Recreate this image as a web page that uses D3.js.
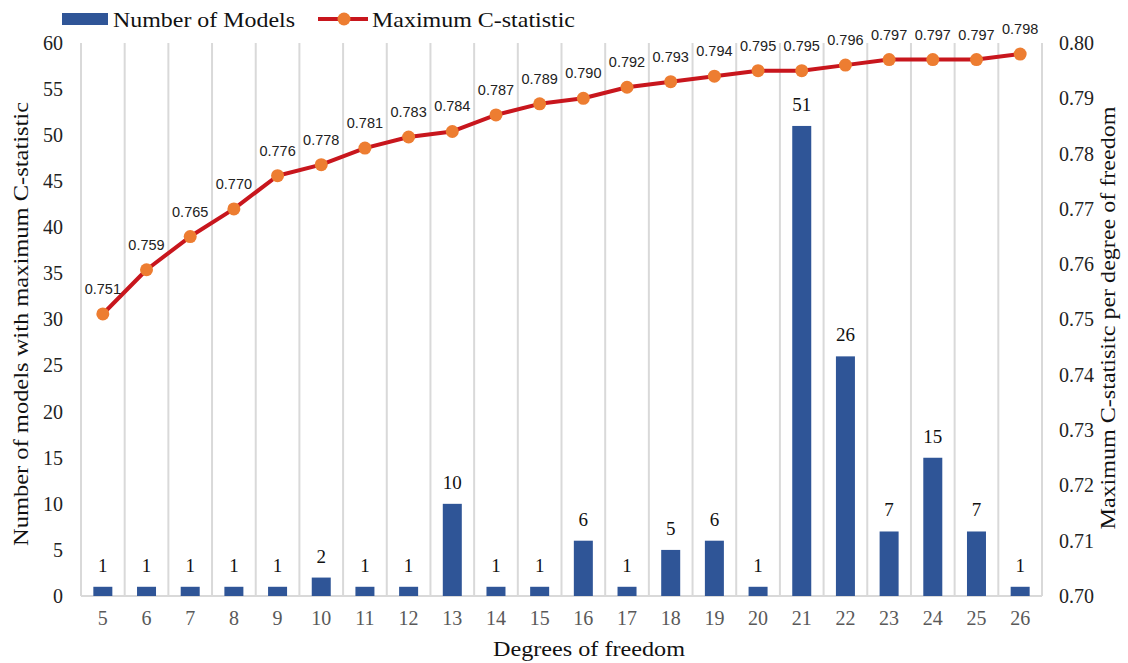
<!DOCTYPE html>
<html><head><meta charset="utf-8">
<script src="https://cdn.jsdelivr.net/npm/d3@7"></script>
<style>body{margin:0;background:#fff}svg{display:block}
.sf{font-family:"Liberation Serif","Times New Roman",Times,"DejaVu Serif",serif}
.ss{font-family:"Liberation Sans",Arial,sans-serif}
</style>
</head><body>
<svg id="c" width="1128" height="663"></svg>
<script>
const categories = ["5","6","7","8","9","10","11","12","13","14","15","16","17","18","19","20","21","22","23","24","25","26"];
const numModels = [1,1,1,1,1,2,1,1,10,1,1,6,1,5,6,1,51,26,7,15,7,1];
const maxC = [0.751,0.759,0.765,0.770,0.776,0.778,0.781,0.783,0.784,0.787,0.789,0.790,0.792,0.793,0.794,0.795,0.795,0.796,0.797,0.797,0.797,0.798];
const leftTicks = [0,5,10,15,20,25,30,35,40,45,50,55,60];
const rightTicks = [0.70,0.71,0.72,0.73,0.74,0.75,0.76,0.77,0.78,0.79,0.80];

const svg = d3.select("#c");
const L = 81, R = 1042, T = 43, B = 596;

const x = d3.scaleBand().domain(categories).range([L, R]).paddingInner(0.565).paddingOuter(0.2825);
const xg = d3.scaleBand().domain(categories).range([L, R]);
const yL = d3.scaleLinear().domain([0, 60]).range([B, T]);
const yR = d3.scaleLinear().domain([0.70, 0.80]).range([B, T]);

// vertical gridlines
const gx = [L].concat(categories.map(c => xg(c) + xg.bandwidth()));
svg.append("g").selectAll("line").data(gx).join("line")
  .attr("x1", d => d).attr("x2", d => d).attr("y1", T).attr("y2", B)
  .attr("stroke", "#d9d9d9").attr("stroke-width", 2);
svg.append("line").attr("x1", L).attr("x2", R).attr("y1", B).attr("y2", B)
  .attr("stroke", "#d9d9d9").attr("stroke-width", 2);

// bars
svg.append("g").selectAll("rect").data(numModels).join("rect")
  .attr("x", (d, i) => x(categories[i])).attr("width", x.bandwidth())
  .attr("y", d => yL(d)).attr("height", d => B - yL(d))
  .attr("fill", "#2f5597");
svg.append("g").selectAll("text").data(numModels).join("text")
  .attr("class", "sf")
  .attr("x", (d, i) => x(categories[i]) + x.bandwidth() / 2)
  .attr("y", d => yL(d) - 15)
  .attr("text-anchor", "middle").attr("font-size", 19).attr("fill", "#111")
  .text(d => d);

// line
const line = d3.line().x((d, i) => xg(categories[i]) + xg.bandwidth() / 2).y(d => yR(d));
svg.append("path").datum(maxC).attr("d", line).attr("fill", "none")
  .attr("stroke", "#c8161d").attr("stroke-width", 4).attr("stroke-linejoin", "round");
svg.append("g").selectAll("circle").data(maxC).join("circle")
  .attr("cx", (d, i) => xg(categories[i]) + xg.bandwidth() / 2).attr("cy", d => yR(d))
  .attr("r", 6.5).attr("fill", "#ed7d31");
svg.append("g").selectAll("text").data(maxC).join("text")
  .attr("class", "ss")
  .attr("x", (d, i) => xg(categories[i]) + xg.bandwidth() / 2)
  .attr("y", d => yR(d) - 20)
  .attr("text-anchor", "middle").attr("font-size", 14.5).attr("fill", "#222")
  .text(d => d3.format(".3f")(d));

// axes
const axL = svg.append("g").attr("transform", `translate(${L},0)`)
  .call(d3.axisLeft(yL).tickValues(leftTicks).tickSize(0).tickPadding(18));
const axR = svg.append("g").attr("transform", `translate(${R},0)`)
  .call(d3.axisRight(yR).tickValues(rightTicks).tickSize(0).tickPadding(17).tickFormat(d3.format(".2f")));
const axB = svg.append("g").attr("transform", `translate(0,${B})`)
  .call(d3.axisBottom(xg).tickSize(0).tickPadding(15));
[axL, axR, axB].forEach(a => {
  a.attr("font-family", null).attr("font-size", null);
  a.select(".domain").remove();
  a.selectAll("text").attr("class", "sf").attr("font-size", 20);
});
axL.selectAll("text").attr("fill", "#222");
axR.selectAll("text").attr("fill", "#222");
axB.selectAll("text").attr("fill", "#595959");

// axis titles
svg.append("text").attr("class", "sf").attr("x", 589).attr("y", 656).attr("text-anchor", "middle")
  .attr("font-size", 22).attr("fill", "#111").attr("textLength", 192).attr("lengthAdjust", "spacingAndGlyphs")
  .text("Degrees of freedom");
svg.append("text").attr("class", "sf").attr("transform", "translate(28,324) rotate(-90)").attr("text-anchor", "middle")
  .attr("font-size", 22).attr("fill", "#111").attr("textLength", 444).attr("lengthAdjust", "spacingAndGlyphs")
  .text("Number of models with maximum C-statistic");
svg.append("text").attr("class", "sf").attr("transform", "translate(1115,318) rotate(-90)").attr("text-anchor", "middle")
  .attr("font-size", 22).attr("fill", "#111").attr("textLength", 423).attr("lengthAdjust", "spacingAndGlyphs")
  .text("Maximum C-statisitc per degree of freedom");

// legend
const lg = svg.append("g");
lg.append("rect").attr("x", 62).attr("y", 13).attr("width", 46).attr("height", 12).attr("fill", "#2f5597");
lg.append("text").attr("class", "sf").attr("x", 113).attr("y", 27).attr("font-size", 22).attr("fill", "#111")
  .attr("textLength", 182).attr("lengthAdjust", "spacingAndGlyphs").text("Number of Models");
lg.append("line").attr("x1", 318).attr("x2", 368).attr("y1", 19).attr("y2", 19).attr("stroke", "#c8161d").attr("stroke-width", 4);
lg.append("circle").attr("cx", 344).attr("cy", 19).attr("r", 6.5).attr("fill", "#ed7d31");
lg.append("text").attr("class", "sf").attr("x", 372).attr("y", 27).attr("font-size", 22).attr("fill", "#111")
  .attr("textLength", 203).attr("lengthAdjust", "spacingAndGlyphs").text("Maximum C-statistic");
</script>
</body></html>
